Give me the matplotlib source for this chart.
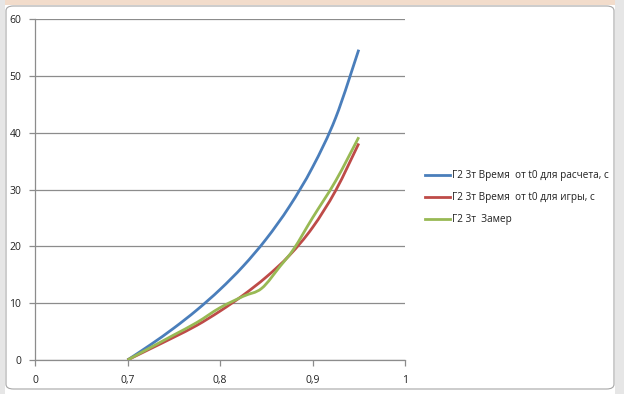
import matplotlib
matplotlib.use("Agg")
import matplotlib.pyplot as plt
from matplotlib.patches import FancyBboxPatch, Rectangle, PathPatch
from matplotlib.path import Path
from matplotlib.lines import Line2D

# ---- data ----
x_calc = [0.700, 0.725, 0.750, 0.775, 0.800, 0.825, 0.850, 0.875, 0.900, 0.925, 0.950]
y_calc = [0.0, 2.7, 5.6, 8.8, 12.4, 16.5, 21.3, 27.0, 33.9, 42.6, 54.6]

x_game = [0.700, 0.725, 0.750, 0.775, 0.800, 0.825, 0.850, 0.875, 0.900, 0.925, 0.950]
y_game = [0.0, 2.0, 4.0, 6.1, 8.6, 11.4, 14.6, 18.4, 23.3, 29.8, 38.1]

x_meas = [0.700, 0.725, 0.750, 0.775, 0.800, 0.825, 0.845, 0.865, 0.880, 0.900, 0.925, 0.950]
y_meas = [0.0, 2.2, 4.4, 6.6, 9.2, 11.2, 12.6, 16.5, 19.6, 25.0, 31.5, 39.2]

labels = ["Г2 3т Время  от t0 для расчета, с",
          "Г2 3т Время  от t0 для игры, с",
          "Г2 3т  Замер"]
colors = ["#4A7EBB", "#BE4B48", "#98B954"]

x_ticks = [0.6, 0.7, 0.8, 0.9, 1.0]
x_ticklabels = ["0", "0,7", "0,8", "0,9", "1"]
y_ticks = [0, 10, 20, 30, 40, 50, 60]

plt.rcParams['font.family'] = ['Open Sans', 'DejaVu Sans']


def smooth_path(xs, ys):
    """Excel-style smoothed line: cubic Bezier segments through the data points."""
    pts = list(zip(xs, ys))
    n = len(pts)
    verts = [pts[0]]
    codes = [Path.MOVETO]
    for i in range(n - 1):
        p0 = pts[i - 1] if i > 0 else pts[i]
        p1 = pts[i]
        p2 = pts[i + 1]
        p3 = pts[i + 2] if i + 2 < n else pts[i + 1]
        c1 = (p1[0] + (p2[0] - p0[0]) / 6, p1[1] + (p2[1] - p0[1]) / 6)
        c2 = (p2[0] - (p3[0] - p1[0]) / 6, p2[1] - (p3[1] - p1[1]) / 6)
        verts += [c1, c2, p2]
        codes += [Path.CURVE4] * 3
    return Path(verts, codes)


W, H = 624, 394
fig = plt.figure(figsize=(W / 100, H / 100), dpi=100)
fig.patch.set_facecolor("white")

# Excel-like frame decorations
fig.patches.append(Rectangle((0, 1 - 5 / H), 1, 5 / H, transform=fig.transFigure,
                             facecolor="#F2DCCB", edgecolor="none", zorder=-5))
fig.patches.append(Rectangle((0, 0), 5 / W, 1, transform=fig.transFigure,
                             facecolor="#E6E6E6", edgecolor="none", zorder=-5))
fig.patches.append(Rectangle((1 - 9 / W, 0), 9 / W, 1, transform=fig.transFigure,
                             facecolor="#E6E6E6", edgecolor="none", zorder=-5))
fig.patches.append(FancyBboxPatch((6 / W, 5 / H), 1 - 16 / W, 1 - 11 / H,
                                  boxstyle="round,pad=0,rounding_size=0.012",
                                  transform=fig.transFigure, facecolor="white",
                                  edgecolor="#A6A6A6", linewidth=0.8, zorder=-4))

ax = fig.add_axes([35 / W, 34 / H, 370 / W, 341 / H])
ax.set_facecolor("none")
ax.set_zorder(2)

handles = []
for xs, ys, c, lab in zip([x_calc, x_game, x_meas], [y_calc, y_game, y_meas], colors, labels):
    patch = PathPatch(smooth_path(xs, ys), facecolor="none", edgecolor=c, lw=2.0,
                      capstyle="butt", joinstyle="round", zorder=3)
    ax.add_patch(patch)
    handles.append(Line2D([], [], color=c, lw=2.0, label=lab))

ax.set_xlim(0.6, 1.0)
ax.set_ylim(0, 60)
ax.set_xticks(x_ticks)
ax.set_xticklabels(x_ticklabels)
ax.set_yticks(y_ticks)
ax.grid(axis="y", color="#8C8C8C", lw=0.9)
ax.set_axisbelow(True)

for s in ["top", "right"]:
    ax.spines[s].set_visible(False)
for s in ["left", "bottom"]:
    ax.spines[s].set_color("#8C8C8C")
    ax.spines[s].set_linewidth(0.9)
ax.tick_params(axis="both", colors="#8C8C8C", labelcolor="#222222", labelsize=7.5,
               length=4, width=0.9, direction="out")
ax.tick_params(axis="x", pad=7)
ax.tick_params(axis="y", pad=6)

leg = ax.legend(handles=handles, loc="center left", bbox_to_anchor=(425 / W, 1 - 198 / H),
                bbox_transform=fig.transFigure, frameon=False, fontsize=7.2,
                handlelength=2.5, handletextpad=0.15, labelspacing=1.1,
                borderpad=0, borderaxespad=0)
for t in leg.get_texts():
    t.set_color("#222222")

fig.savefig("out.png", dpi=100)
